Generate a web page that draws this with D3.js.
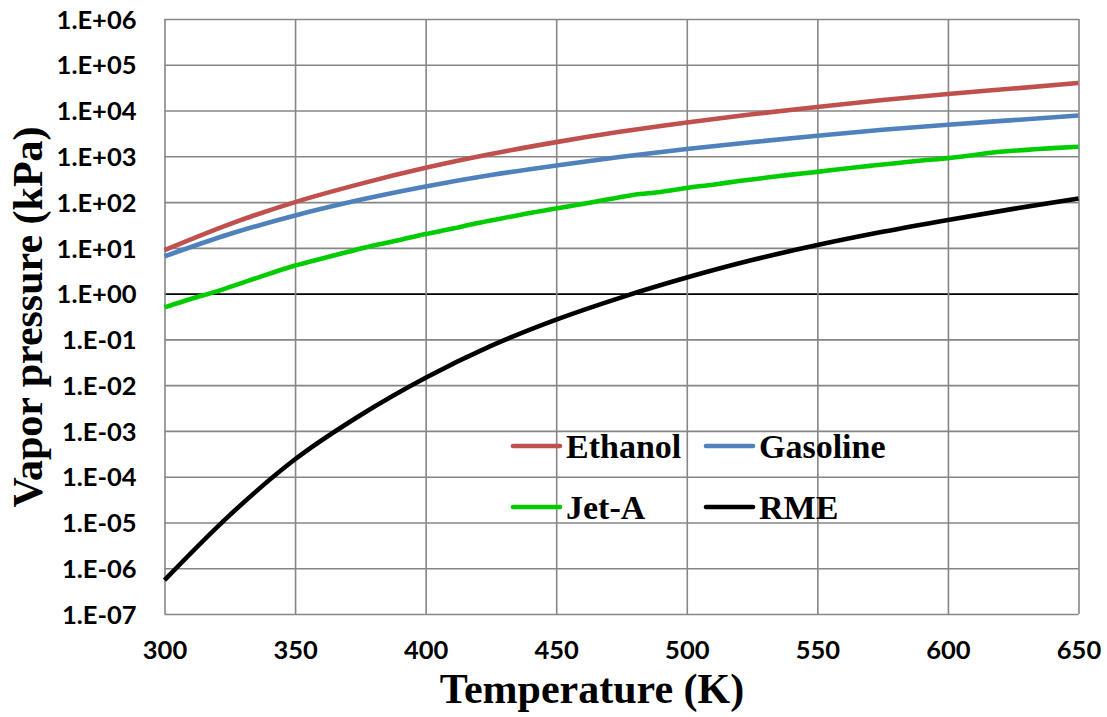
<!DOCTYPE html>
<html>
<head>
<meta charset="utf-8">
<script src="https://cdn.jsdelivr.net/npm/d3@7"></script>
<style>
  html, body { margin: 0; padding: 0; background: #fff; }
  svg { display: block; }
  .tick-label { font-family: Lato, "Open Sans", sans-serif; font-weight: 700; font-size: 25.5px; fill: #000; }
  .axis-title { font-family: "Liberation Serif", "Times New Roman", serif; font-weight: 700; font-size: 42px; fill: #000; }
  .legend-text { font-family: "Liberation Serif", "Times New Roman", serif; font-weight: 700; font-size: 34px; fill: #000; }
</style>
</head>
<body>
<svg id="chart" width="1107" height="717"></svg>
<script>
// Temperatures (K) at which each fuel's vapour pressure is tabulated
const temps25 = [300, 325, 350, 375, 400, 425, 450, 475, 500, 525, 550, 575, 600, 625, 650];
const temps10 = [300, 310, 320, 330, 340, 350, 360, 370, 380, 390, 400, 410, 420, 430, 440,
                 450, 460, 470, 480, 490, 500, 510, 520, 530, 540, 550, 560, 570, 580, 590,
                 600, 610, 620, 630, 640, 650];

// Vapour pressure, kPa
const ethanol  = [8.9, 33, 100, 250, 560, 1120, 2040, 3470, 5500, 8300, 12000, 17000, 23000, 30200, 40000];
const gasoline = [6.5, 20, 51, 112, 219, 389, 631, 977, 1445, 2040, 2820, 3800, 4900, 6170, 7760];
const jetA     = [0.50, 0.76, 1.12, 1.74, 2.7, 4.1, 5.8, 8.1, 11.2, 14.8, 20, 26, 35, 45, 58,
                  72, 91, 115, 145, 166, 204, 240, 288, 339, 398, 457, 537, 617, 708, 813,
                  912, 1070, 1260, 1380, 1510, 1620];
const rme      = [5.5e-7, 1.45e-5, 2.4e-4, 2.2e-3, 1.45e-2, 0.072, 0.27, 0.83, 2.24, 5.4, 11.5, 22.4, 40.7, 71, 120];

// Axis ticks
const xTicks = [300, 350, 400, 450, 500, 550, 600, 650];
const yTicks = [1e-7, 1e-6, 1e-5, 1e-4, 1e-3, 1e-2, 1e-1, 1e0, 1e1, 1e2, 1e3, 1e4, 1e5, 1e6];

const seriesNames  = ["Ethanol", "Gasoline", "Jet-A", "RME"];
const seriesColors = ["#C0504D", "#4F81BD", "#00CC00", "#000000"];

const series = [
  { name: seriesNames[0], color: seriesColors[0], t: temps25, v: ethanol },
  { name: seriesNames[1], color: seriesColors[1], t: temps25, v: gasoline },
  { name: seriesNames[2], color: seriesColors[2], t: temps10, v: jetA },
  { name: seriesNames[3], color: seriesColors[3], t: temps25, v: rme }
];

const plot = { left: 164.5, right: 1078.5, top: 19, bottom: 614 };

const x = d3.scaleLinear().domain([300, 650]).range([plot.left, plot.right]);
const y = d3.scaleLog().domain([1e-7, 1e6]).range([plot.bottom, plot.top]);

const svg = d3.select("#chart");

// Scientific labels such as 1.E+06 / 1.E-07
function sci(v) {
  const e = Math.round(Math.log10(v));
  const s = e < 0 ? "-" : "+";
  return "1.E" + s + String(Math.abs(e)).padStart(2, "0");
}

// Horizontal grid (the 1.E+00 line is drawn in black)
const gridY = svg.append("g")
  .attr("transform", `translate(${plot.left},0)`)
  .call(d3.axisLeft(y).tickValues(yTicks).tickSize(-(plot.right - plot.left)).tickFormat(""));
gridY.select(".domain").remove();
gridY.selectAll("line")
  .attr("stroke", d => d === 1 ? "#000" : "#868686")
  .attr("stroke-width", 1.6);

// Vertical grid
const gridX = svg.append("g")
  .attr("transform", `translate(0,${plot.bottom})`)
  .call(d3.axisBottom(x).tickValues(xTicks).tickSize(-(plot.bottom - plot.top)).tickFormat(""));
gridX.select(".domain").remove();
gridX.selectAll("line").attr("stroke", "#868686").attr("stroke-width", 1.6);

// Y tick labels
const yAxis = svg.append("g")
  .attr("transform", `translate(${plot.left},0)`)
  .call(d3.axisLeft(y).tickValues(yTicks).tickSize(0).tickPadding(28).tickFormat(sci));
yAxis.select(".domain").remove();
yAxis.selectAll("text").attr("class", "tick-label").attr("dy", "0.36em");

// X tick labels
const xAxis = svg.append("g")
  .attr("transform", `translate(0,${plot.bottom})`)
  .call(d3.axisBottom(x).tickValues(xTicks).tickSize(0).tickFormat(d3.format("d")));
xAxis.select(".domain").remove();
xAxis.selectAll("text").attr("class", "tick-label").attr("dy", "0.36em").attr("y", 36);

// Curves
const line = d3.line()
  .x(d => x(d[0]))
  .y(d => y(d[1]))
  .curve(d3.curveMonotoneX);

svg.append("g").selectAll("path")
  .data(series)
  .join("path")
  .attr("d", s => line(s.t.map((t, i) => [t, s.v[i]])))
  .attr("fill", "none")
  .attr("stroke", s => s.color)
  .attr("stroke-width", 4.6)
  .attr("stroke-linejoin", "round");

// Legend (2 x 2)
const legendPos = [
  { lx: 513, ly: 446 }, { lx: 706, ly: 446 },
  { lx: 513, ly: 507 }, { lx: 706, ly: 507 }
];
const legend = svg.append("g").selectAll("g")
  .data(series)
  .join("g")
  .attr("transform", (s, i) => `translate(${legendPos[i].lx},${legendPos[i].ly})`);
legend.append("line")
  .attr("x1", 0).attr("x2", 47).attr("y1", 0).attr("y2", 0)
  .attr("stroke", s => s.color).attr("stroke-width", 4.6).attr("stroke-linecap", "round");
legend.append("text")
  .attr("class", "legend-text")
  .attr("x", 53).attr("y", 12)
  .text(s => s.name);

// Axis titles
svg.append("text")
  .attr("class", "axis-title")
  .attr("x", 592).attr("y", 703)
  .attr("text-anchor", "middle")
  .text("Temperature (K)");

svg.append("text")
  .attr("class", "axis-title")
  .attr("transform", "translate(42,317) rotate(-90)")
  .attr("text-anchor", "middle")
  .text("Vapor pressure (kPa)");
</script>
</body>
</html>
